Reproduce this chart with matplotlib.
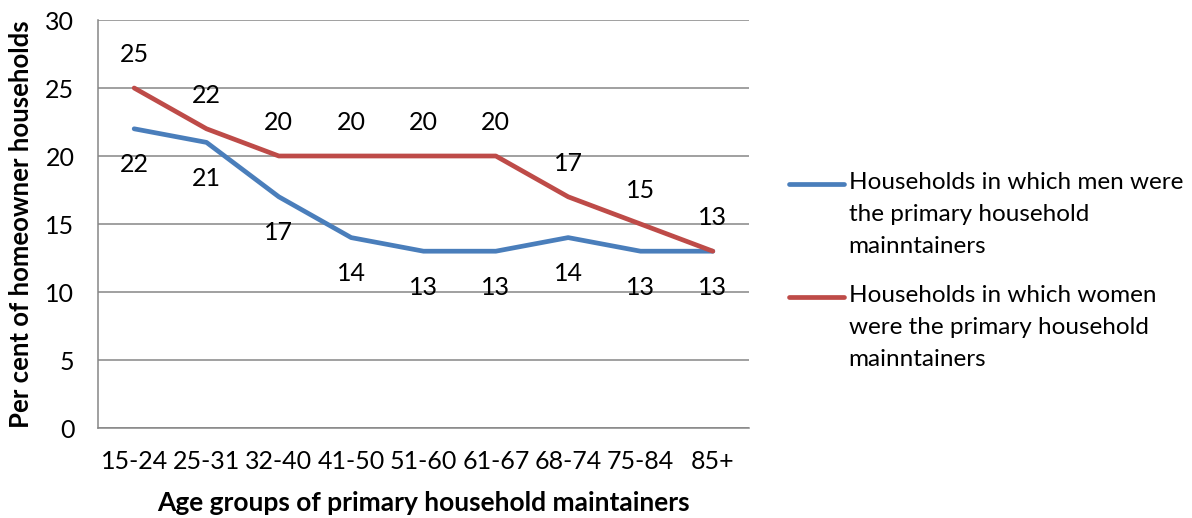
import matplotlib
matplotlib.use("Agg")
import matplotlib.pyplot as plt
from matplotlib.legend_handler import HandlerLine2D

plt.rcParams['font.family'] = ['Lato', 'DejaVu Sans']

categories = ["15-24", "25-31", "32-40", "41-50", "51-60", "61-67", "68-74", "75-84", "85+"]
men = [22, 21, 17, 14, 13, 13, 14, 13, 13]
women = [25, 22, 20, 20, 20, 20, 17, 15, 13]
label_men = "Households in which men were\nthe primary household\nmainntainers"
label_women = "Households in which women\nwere the primary household\nmainntainers"
yticks = [0, 5, 10, 15, 20, 25, 30]

blue = "#4A7EBB"
red = "#BE4B48"
grid = "#868686"

LINE_SHIFT_PT = 22.0  # move legend handle up to the first text line


class FirstLineHandler(HandlerLine2D):
    def create_artists(self, legend, orig_handle, xdescent, ydescent, width, height, fontsize, trans):
        artists = super().create_artists(legend, orig_handle, xdescent, ydescent, width, height, fontsize, trans)
        for a in artists:
            a.set_ydata([y + LINE_SHIFT_PT for y in a.get_ydata()])
        return artists


fig = plt.figure(figsize=(11.92, 5.18), dpi=100)
ax = fig.add_axes([98/1192, 1-428/518, (749-98)/1192, (428-20)/518])

x = list(range(len(categories)))
l1, = ax.plot(x, men, color=blue, lw=3.4, solid_capstyle='round', solid_joinstyle='round', label=label_men, zorder=3)
l2, = ax.plot(x, women, color=red, lw=3.4, solid_capstyle='round', solid_joinstyle='round', label=label_women, zorder=3)

for xi, v in zip(x, men):
    ax.annotate(str(v), (xi, v), xytext=(0, -26), textcoords='offset points',
                ha='center', va='center', fontsize=18, color='black')
for xi, v in zip(x, women):
    ax.annotate(str(v), (xi, v), xytext=(0, 24), textcoords='offset points',
                ha='center', va='center', fontsize=18, color='black')

ax.set_xlim(-0.5, 8.5)
ax.set_ylim(0, 30)
ax.set_yticks(yticks)
ax.set_xticks(x)
ax.set_xticklabels(categories)
ax.yaxis.grid(True, color=grid, lw=1.1)
ax.set_axisbelow(True)
for s in ['top', 'right']:
    ax.spines[s].set_visible(False)
ax.spines['left'].set_color(grid)
ax.spines['left'].set_linewidth(1.1)
ax.spines['bottom'].set_color(grid)
ax.spines['bottom'].set_linewidth(1.1)
ax.tick_params(axis='both', length=0, labelsize=18)
ax.tick_params(axis='y', pad=17)
ax.tick_params(axis='x', pad=16)

ax.set_xlabel("Age groups of primary household maintainers", fontsize=19, fontweight='bold', labelpad=13)
ax.set_ylabel("Per cent of homeowner households", fontsize=18.5, fontweight='bold', labelpad=9)

leg = fig.legend(handles=[l1, l2], loc='center left', bbox_to_anchor=(789/1192, 1-271/518), frameon=False,
                 fontsize=17.5, handlelength=2.25, handletextpad=0.2, borderpad=0,
                 borderaxespad=0, labelspacing=1.15,
                 handler_map={l1: FirstLineHandler(), l2: FirstLineHandler()})
for t in leg.get_texts():
    t.set_linespacing(1.64)

fig.savefig("out.png", dpi=100)
